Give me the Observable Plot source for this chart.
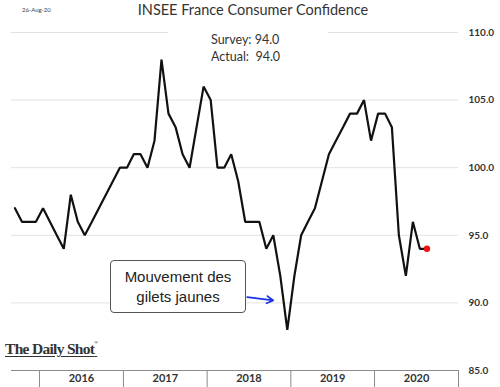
<!DOCTYPE html>
<html><head><meta charset="utf-8">
<script src="https://cdn.jsdelivr.net/npm/d3@7"></script>
<script src="https://cdn.jsdelivr.net/npm/@observablehq/plot@0.6"></script>
<style>
html,body{margin:0;padding:0;background:#fff;}
#wrap{position:relative;width:500px;height:387px;overflow:hidden;font-family:Lato,sans-serif;}
#wrap svg{position:absolute;left:0;top:0;}
.date{position:absolute;left:22px;top:6px;font-size:6px;color:#444;}
.title{position:absolute;left:0;width:506px;top:1px;text-align:center;font-size:14.5px;color:#333;}
.stats{position:absolute;left:168px;top:26px;width:160px;height:42px;background:#fff;}
.stats div{position:absolute;left:43px;font-size:12.5px;color:#333;white-space:pre;}
.note{position:absolute;left:110px;top:260px;width:134px;height:51px;border:1.5px solid #555;border-radius:4px;background:#fff;font-family:"Liberation Sans",Arial,sans-serif;font-size:15px;color:#222;display:flex;flex-direction:column;justify-content:center;align-items:center;line-height:19.5px;}
.logo{position:absolute;left:5px;top:340px;font-family:"Liberation Serif",serif;font-weight:bold;font-size:15.5px;letter-spacing:-0.7px;color:#333;text-decoration:underline;text-underline-offset:2px;}
.logo sup{font-size:5px;vertical-align:top;}
</style>
</head><body>
<div id="wrap"></div>
<script>
// ---- data ----
const startYear = 2015, startMonth = 8; // September 2015 (0-based month)
const confidence = [
  97, 96, 96, 96,                                   // 2015 Sep-Dec
  97, 96, 95, 94, 98, 96, 95, 96, 97, 98, 99, 100,  // 2016
  100, 101, 101, 100, 102, 108, 104, 103, 101, 100, 103, 106, // 2017
  105, 100, 100, 101, 99, 96, 96, 96, 94, 95, 92, 88,        // 2018
  92, 95, 96, 97, 99, 101, 102, 103, 104, 104, 105, 102,     // 2019
  104, 104, 103, 95, 92, 96, 94, 94                          // 2020 Jan-Aug
];
const years = ["2016", "2017", "2018", "2019", "2020"];
const yTicks = [85, 90, 95, 100, 105, 110];
const survey = 94.0, actual = 94.0;
const dateLabel = "26-Aug-20";
const titleText = "INSEE France Consumer Confidence";
const noteLines = ["Mouvement des", "gilets jaunes"];
// annotation arrow (data coordinates): from box edge toward the Dec-2018 trough
const arrowFrom = {date: "2018-06-25", value: 90.42};
const arrowTo = {date: "2018-10-16", value: 90.18};

// ---- build ----
const data = confidence.map((v, i) => {
  const a = Date.UTC(startYear, startMonth + i, 1);
  const b = Date.UTC(startYear, startMonth + i + 1, 1);
  return {date: new Date((a + b) / 2), value: v};
});
const last = data[data.length - 1];
const yearStarts = years.map(y => new Date(Date.UTC(+y, 0, 1))).concat([new Date(Date.UTC(+years[years.length-1] + 1, 0, 1))]);
const yearMids = years.map(y => new Date((Date.UTC(+y, 0, 1) + Date.UTC(+y + 1, 0, 1)) / 2));

const chart = Plot.plot({
  width: 500, height: 387,
  marginLeft: 11, marginRight: 42, marginTop: 32, marginBottom: 17,
  x: {type: "utc", domain: [new Date(Date.UTC(startYear, startMonth, 1)), yearStarts[yearStarts.length - 1]]},
  y: {domain: [85, 110]},
  style: {fontFamily: "Lato, sans-serif", background: "transparent", overflow: "visible"},
  marks: [
    Plot.gridY({ticks: yTicks.filter(v => v > 85), stroke: "#e2e2e2", strokeOpacity: 1}),
    Plot.ruleY([85], {stroke: "#8a8a8a", strokeWidth: 1}),
    Plot.axisY({ticks: yTicks, anchor: "right", tickSize: 0, tickPadding: 10, tickFormat: d => d.toFixed(1), fontWeight: "bold", fontSize: 10, fill: "#333", label: null}),
    Plot.axisX({ticks: yearStarts, tickSize: 17, tickFormat: () => "", stroke: "#8a8a8a", label: null}),
    Plot.axisX({ticks: yearMids, tickSize: 0, tickPadding: 4, tickFormat: d => String(d.getUTCFullYear()), fontWeight: "bold", fontSize: 11, fill: "#333", label: null}),
    Plot.line(data, {x: "date", y: "value", stroke: "#111", strokeWidth: 2.2, strokeLinejoin: "miter"}),
    Plot.dot([last], {x: "date", y: "value", fill: "#ee1111", r: 3.2}),
    Plot.arrow([{x1: new Date(arrowFrom.date), y1: arrowFrom.value, x2: new Date(arrowTo.date), y2: arrowTo.value}],
      {x1: "x1", y1: "y1", x2: "x2", y2: "y2", stroke: "#1a33e6", strokeWidth: 1.8, headLength: 6})
  ]
});

const wrap = document.getElementById("wrap");
wrap.appendChild(chart);
const add = (cls, html) => { const d = document.createElement("div"); d.className = cls; d.innerHTML = html; wrap.appendChild(d); return d; };
add("date", dateLabel);
add("title", titleText);
const st = add("stats", "");
const s1 = document.createElement("div"); s1.style.top = "6px"; s1.textContent = "Survey: " + survey.toFixed(1); st.appendChild(s1);
const s2 = document.createElement("div"); s2.style.top = "23px"; s2.textContent = "Actual:  " + actual.toFixed(1); st.appendChild(s2);
add("note", noteLines.map(t => "<span>" + t + "</span>").join(""));
add("logo", "The Daily Shot<sup>®</sup>");
</script>
</body></html>
